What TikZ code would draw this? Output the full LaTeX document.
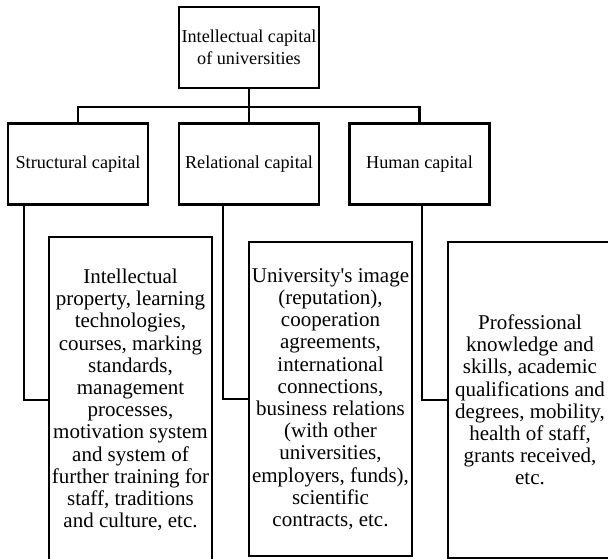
\documentclass[tikz,border=0pt]{standalone}
\usepackage{fontspec}
\setmainfont{Liberation Serif}
\usepackage{tikz}

\begin{document}
\begin{tikzpicture}[x=1pt, y=-1pt,
    box/.style={draw, line width=2.2pt, align=center, inner sep=0pt,
      font=\fontsize{18.2}{22}\selectfont},
    textbox/.style={box, font=\fontsize{21}{22.2}\selectfont},
    link/.style={line width=2.2pt}]
  \useasboundingbox (0,0) rectangle (608,559);
  % top
  \node[box, minimum width=140pt, minimum height=81pt] (ic) at (249,47.5)
    {Intellectual capital\\of universities};
  % kinds of capital
  \node[box, minimum width=140pt, minimum height=81pt] (sc) at (78,164) {Structural capital};
  \node[box, minimum width=140pt, minimum height=81pt] (rc) at (249,164) {Relational capital};
  \node[box, minimum width=140pt, minimum height=81pt] (hc) at (419.5,164) {Human capital};
  % contents
  \node[textbox, minimum width=163pt, minimum height=326pt] (d1) at (130.5,400)
    {Intellectual\\property, learning\\technologies,\\courses, marking\\standards,\\management\\processes,\\motivation system\\and system of\\further training for\\staff, traditions\\and culture, etc.};
  \node[textbox, minimum width=163pt, minimum height=314pt] (d2) at (330.5,399)
    {University\textquotesingle s image\\(reputation),\\cooperation\\agreements,\\international\\connections,\\business relations\\(with other\\universities,\\employers, funds),\\scientific\\contracts, etc.};
  \node[textbox, minimum width=164pt, minimum height=316pt] (d3) at (530,400)
    {Professional\\knowledge and\\skills, academic\\qualifications and\\degrees, mobility,\\health of staff,\\grants received,\\etc.};
  % connectors
  \draw[link] (ic.south) -- ++(0,18) coordinate (bus);
  \draw[link] (sc.north) |- (bus) -| (hc.north);
  \draw[link] (bus) -- (rc.north);
  \path (d1.west) ++(-24,0) coordinate (k1);
  \path (d2.west) ++(-25,0) coordinate (k2);
  \path (d3.west) ++(-25,0) coordinate (k3);
  \draw[link] (k1 |- sc.south) |- (d1.west);
  \draw[link] (k2 |- rc.south) |- (d2.west);
  \draw[link] (k3 |- hc.south) |- (d3.west);
\end{tikzpicture}
\end{document}
